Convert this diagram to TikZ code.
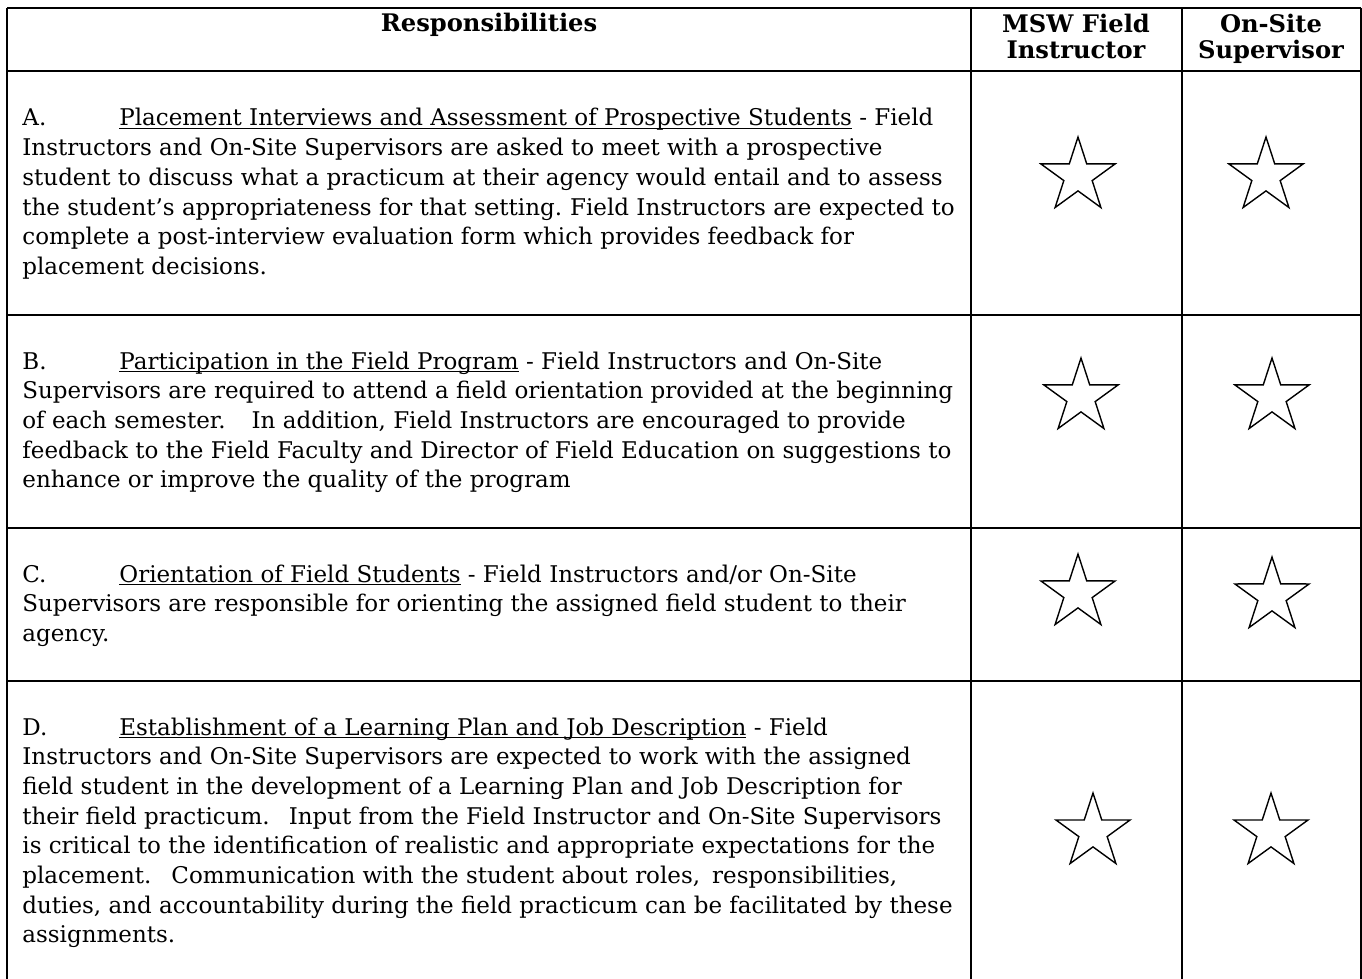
\documentclass[tikz,border=0pt]{standalone}
\usepackage{fontspec}
\setmainfont{DejaVu Serif}
\usetikzlibrary{shapes.geometric}
\newcommand\ulword[1]{\underline{\smash{#1}}}
\newcommand\itemlabel[1]{\makebox[48.5pt][l]{#1}}
\frenchspacing
\tikzset{
  rule/.style={line width=1.2pt},
  cell/.style={anchor=base west, inner sep=0pt, font=\fontsize{11.5}{14.85}\selectfont},
  head/.style={anchor=base, inner sep=0pt, font=\bfseries\fontsize{12.1}{13}\selectfont},
  starmark/.style={star, star points=5, star point ratio=2.618, draw, line width=0.7pt, minimum size=39pt, inner sep=0pt}
}
\begin{document}
\begin{tikzpicture}[x=0.5pt,y=-0.5pt]
\useasboundingbox (0,0) rectangle (1362,979);
\draw[rule] (7,8) -- (1361,8);
\foreach \y in {71,315,528,681}
  \draw[rule] (7,\y) -- (1361,\y);
\foreach \x in {7,971,1182,1361}
  \draw[rule] (\x,8) -- (\x,979);
\node[head] (resp) at (489,32) {Responsibilities};
\node[head] (msw) at (1076,33) {\parbox[t]{100pt}{\centering MSW Field\\Instructor}};
\node[head] (onsite) at (1271,33) {\parbox[t]{88pt}{\centering On-Site\\Supervisor}};
\node[cell] (rowa) at (22,126) {\parbox[t]{470pt}{\itemlabel{A.}\ulword{Placement Interviews and Assessment of Prospective Students} - Field\\
Instructors and On-Site Supervisors are asked to meet with a prospective\\
student to discuss what a practicum at their agency would entail and to assess\\
the student’s appropriateness for that setting.\hspace{4pt}Field Instructors are expected to\\
complete a post-interview evaluation form which provides feedback for\\
placement decisions.}};
\node[cell] (rowb) at (22,369) {\parbox[t]{470pt}{\itemlabel{B.}\ulword{Participation in the Field Program} - Field Instructors and On-Site\\
Supervisors are required to attend a field orientation provided at the beginning\\
of each semester.\hspace{13pt}In addition, Field Instructors are encouraged to provide\\
feedback to the Field Faculty and Director of Field Education on suggestions to\\
enhance or improve the quality of the program}};
\node[cell] (rowc) at (22,582) {\parbox[t]{470pt}{\itemlabel{C.}\ulword{Orientation of Field Students} - Field Instructors and/or On-Site\\
Supervisors are responsible for orienting the assigned field student to their\\
agency.}};
\node[cell] (rowd) at (22,735) {\parbox[t]{470pt}{\itemlabel{D.}\ulword{Establishment of a Learning Plan and Job Description} - Field\\
Instructors and On-Site Supervisors are expected to work with the assigned\\
field student in the development of a Learning Plan and Job Description for\\
their field practicum.\hspace{9.5pt}Input from the Field Instructor and On-Site Supervisors\\
is critical to the identification of realistic and appropriate expectations for the\\
placement.\hspace{10pt}Communication with the student about roles,\hspace{6pt}responsibilities,\\
duties, and accountability during the field practicum can be facilitated by these\\
assignments.}};
\node[starmark] (a1) at (1078,176) {};
\node[starmark] (a2) at (1266,176) {};
\node[starmark] (b1) at (1081,397) {};
\node[starmark] (b2) at (1272,397) {};
\node[starmark] (c1) at (1078,593) {};
\node[starmark] (c2) at (1272,596) {};
\node[starmark] (d1) at (1093,832) {};
\node[starmark] (d2) at (1271,832) {};
\end{tikzpicture}
\end{document}
